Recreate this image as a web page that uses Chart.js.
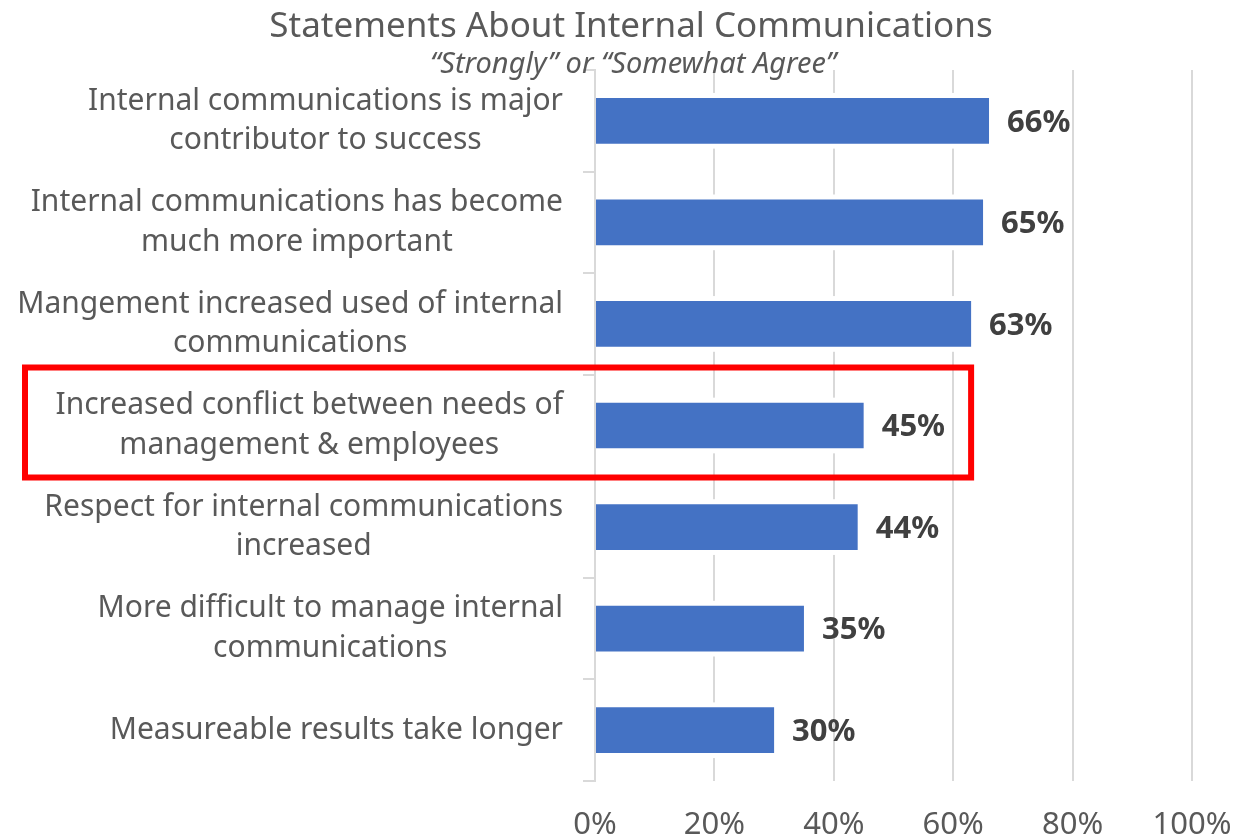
<!DOCTYPE html>
<html>
<head>
<meta charset="utf-8">
<title>Statements About Internal Communications</title>
<script src="https://cdn.jsdelivr.net/npm/chart.js@4/dist/chart.umd.min.js"></script>
<style>
  html, body { margin: 0; padding: 0; background: #ffffff; }
  #wrap { width: 1251px; height: 836px; position: relative; }
</style>
</head>
<body>
<div id="wrap"><canvas id="chart"></canvas></div>
<script>
// --- DONNÉES ---
const statements = [
    ['Internal communications is major', 'contributor to success'],
    ['Internal communications has become', 'much more important'],
    ['Mangement increased used of internal', 'communications'],
    ['Increased conflict between needs of', 'management & employees'],
    ['Respect for internal communications', 'increased'],
    ['More difficult to manage internal', 'communications'],
    ['Measureable results take longer']
];
const agreePct = [66, 65, 63, 45, 44, 35, 30];
const pctTicks = [0, 20, 40, 60, 80, 100];
const highlightIndex = 3;   // the row framed in red

const chartTitle = 'Statements About Internal Communications';
const chartSubtitle = '\u201CStrongly\u201D or \u201CSomewhat Agree\u201D';

const FONT = "'Noto Sans', 'Open Sans', sans-serif";
const GREY = '#595959';
const GRID = '#d9d9d9';
const LABEL_RIGHT = 563;   // bord droit des libellés de catégorie
const LINE_H = 39.5;

// titre + sous-titre dessinés à la main (le sous-titre déborde sur la zone du graphe)
const headerPlugin = {
    id: 'header',
    afterDraw(chart) {
        const ctx = chart.ctx;
        ctx.save();
        ctx.fillStyle = GREY;
        ctx.textAlign = 'center';
        ctx.textBaseline = 'alphabetic';
        ctx.font = `35px ${FONT}`;
        ctx.fillText(chartTitle, 631, 37);
        ctx.font = `italic 29px ${FONT}`;
        ctx.fillText(chartSubtitle, 633, 73);
        ctx.restore();
    }
};

// libellés multi-lignes : bloc centré, calé à droite sur l'axe
const categoryLabelPlugin = {
    id: 'categoryLabels',
    afterDraw(chart) {
        const ctx = chart.ctx;
        const yScale = chart.scales.y;
        ctx.save();
        ctx.fillStyle = GREY;
        ctx.font = `30px ${FONT}`;
        ctx.textAlign = 'center';
        ctx.textBaseline = 'middle';
        statements.forEach((lines, i) => {
            const yc = yScale.getPixelForValue(i);
            const w = Math.max(...lines.map(l => ctx.measureText(l).width));
            const cx = LABEL_RIGHT - w / 2;
            const y0 = yc - (lines.length - 1) * LINE_H / 2;
            lines.forEach((l, k) => ctx.fillText(l, cx, y0 + k * LINE_H));
        });
        ctx.restore();
    }
};

// gaps blancs autour des barres (coupe les lignes de grille)
const barGapPlugin = {
    id: 'barGap',
    beforeDatasetsDraw(chart) {
        const ctx = chart.ctx;
        const area = chart.chartArea;
        ctx.save();
        ctx.fillStyle = '#ffffff';
        chart.getDatasetMeta(0).data.forEach(bar => {
            const h = bar.height;
            ctx.fillRect(area.left + 1, bar.y - h / 2 - 5, bar.x - area.left + 3, h + 10);
        });
        ctx.restore();
    }
};

// étiquettes de valeur en gras au bout des barres
const valueLabelPlugin = {
    id: 'valueLabels',
    afterDatasetsDraw(chart) {
        const ctx = chart.ctx;
        ctx.save();
        ctx.fillStyle = '#404040';
        ctx.font = `bold 31px ${FONT}`;
        ctx.textAlign = 'left';
        ctx.textBaseline = 'middle';
        chart.getDatasetMeta(0).data.forEach((bar, i) => {
            ctx.fillText(agreePct[i] + '%', bar.x + 18, bar.y + 2);
        });
        ctx.restore();
    }
};

// cadre rouge autour de la ligne mise en avant
const highlightPlugin = {
    id: 'highlight',
    afterDraw(chart) {
        const yScale = chart.scales.y;
        const xScale = chart.scales.x;
        const yc = yScale.getPixelForValue(highlightIndex);
        const ctx = chart.ctx;
        ctx.save();
        ctx.strokeStyle = '#ff0000';
        ctx.lineWidth = 6;
        ctx.strokeRect(25, yc - 58, xScale.getPixelForValue(63) - 25, 110);
        ctx.restore();
    }
};

new Chart(document.getElementById('chart'), {
    type: 'bar',
    data: {
        labels: statements,
        datasets: [{
            data: agreePct,
            backgroundColor: '#4472C4',
            borderWidth: 0,
            categoryPercentage: 0.45,
            barPercentage: 1.0
        }]
    },
    options: {
        indexAxis: 'y',
        responsive: true,
        maintainAspectRatio: false,
        animation: false,
        devicePixelRatio: 1,
        layout: { padding: { top: 70, right: 59, left: 0, bottom: 0 } },
        plugins: {
            legend: { display: false },
            tooltip: { enabled: false },
            title: { display: false }
        },
        scales: {
            x: {
                min: 0,
                max: 100,
                afterBuildTicks: scale => { scale.ticks = pctTicks.map(v => ({ value: v })); },
                afterFit: scale => {
                    scale.height = 55;
                    scale.paddingLeft = 0;
                    scale.paddingRight = 0;
                },
                grid: { color: GRID, lineWidth: 2, drawTicks: false },
                border: { display: false },
                ticks: {
                    padding: 26,
                    color: GREY,
                    font: { family: FONT, size: 31 },
                    callback: v => v + '%'
                }
            },
            y: {
                afterFit: scale => { scale.width = 595; },
                grid: {
                    offset: true,
                    drawOnChartArea: false,
                    drawTicks: true,
                    tickLength: 12,
                    color: GRID,
                    lineWidth: 2
                },
                border: { display: true, color: GRID, width: 2 },
                ticks: { display: false }
            }
        }
    },
    plugins: [barGapPlugin, valueLabelPlugin, categoryLabelPlugin, headerPlugin, highlightPlugin]
});
</script>
</body>
</html>
